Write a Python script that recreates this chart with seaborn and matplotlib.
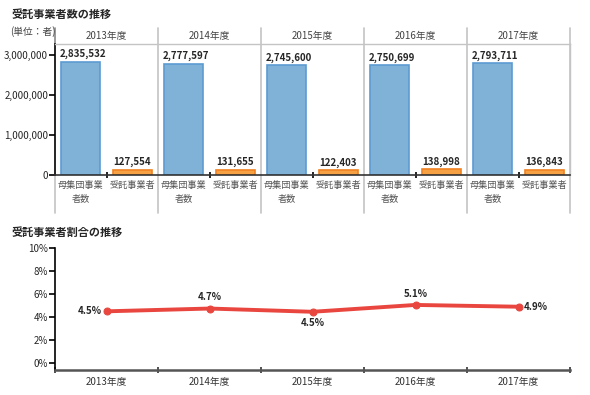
import matplotlib
matplotlib.use('Agg')
import matplotlib.pyplot as plt
import seaborn as sns
import pandas as pd
import numpy as np
from matplotlib.ticker import FuncFormatter

sns.set_style('white')
plt.rcParams['font.family'] = ['Noto Sans CJK JP', 'DejaVu Sans']

years = ['2013年度', '2014年度', '2015年度', '2016年度', '2017年度']
types = ['母集団事業\n者数', '受託事業者']
population = [2835532, 2777597, 2745600, 2750699, 2793711]
contracted = [127554, 131655, 122403, 138998, 136843]
ratio = [c / p * 100 for c, p in zip(contracted, population)]

blue = '#80b1d6'
blue_edge = '#5c9bd2'
orange = '#f7a145'
orange_edge = '#f08220'
red = '#e9463f'

df = pd.DataFrame({
    'year': years * 2,
    'type': [types[0]] * 5 + [types[1]] * 5,
    'value': population + contracted,
})

fig = plt.figure(figsize=(5.9, 3.95), dpi=100)

# --- top: counts
ax = fig.add_axes([55 / 590, 1 - 175 / 395, 515 / 590, 131 / 395])
sns.barplot(data=df, x='year', y='value', hue='type', hue_order=types,
            palette=[blue, orange], saturation=1, width=1.0, gap=0.25,
            dodge=True, linewidth=1.2, ax=ax, legend=False)
for p in ax.patches[:5]:
    p.set_edgecolor(blue_edge)
for p in ax.patches[5:10]:
    p.set_edgecolor(orange_edge)

ax.set_xlim(-0.5, 4.5)
ax.set_ylim(0, 3275000)
ax.set_yticks([0, 1000000, 2000000, 3000000])
ax.yaxis.set_major_formatter(FuncFormatter(lambda v, _: f'{int(v):,}'))
ax.set_xlabel('')
ax.set_ylabel('')
ax.tick_params(axis='y', labelsize=7, length=4, width=1.2, color='black',
               left=True, pad=1)
ax.set_xticks(range(5))
ax.set_xticklabels([])
ax.tick_params(axis='x', length=4, width=1.2, color='black', bottom=True,
               direction='inout')

for s in ['top', 'right']:
    ax.spines[s].set_color('#c4c4c4')
    ax.spines[s].set_linewidth(1)
ax.spines['left'].set_color('black')
ax.spines['left'].set_linewidth(1.2)
ax.spines['bottom'].set_color('#333333')
ax.spines['bottom'].set_linewidth(1.2)

xt = ax.get_xaxis_transform()
for i in range(5):
    ax.text(i - 0.455, population[i] + 60000, f'{population[i]:,}', ha='left',
            va='bottom', fontsize=7, fontweight='bold')
    ax.text(i + 0.25, contracted[i] + 60000, f'{contracted[i]:,}', ha='center',
            va='bottom', fontsize=7, fontweight='bold')
    ax.text(i, 1.063, years[i], ha='center', va='center', fontsize=7,
            color='#444444', transform=xt)
    ax.text(i - 0.25, -0.045, types[0], ha='center', va='top', fontsize=6.6,
            color='#555555', linespacing=1.75, transform=xt)
    ax.text(i + 0.25, -0.045, types[1], ha='center', va='top', fontsize=6.6,
            color='#555555', transform=xt)

for b in [0.5, 1.5, 2.5, 3.5, 4.5]:
    ax.axvline(b, ymin=-0.29, ymax=1.122, color='#c4c4c4', lw=1.2, clip_on=False)
ax.axvline(-0.5, ymin=1.0, ymax=1.122, color='#888888', lw=1.2, clip_on=False)
ax.axvline(-0.5, ymin=-0.29, ymax=0, color='#c4c4c4', lw=1.2, clip_on=False)

fig.text(12 / 590, 1 - 14 / 395, '受託事業者数の推移', fontsize=8,
         fontweight='bold', va='center')
fig.text(10 / 590, 1 - 32 / 395, '(単位：者)', fontsize=7, va='center',
         color='#444444')

# --- bottom: ratio
ax2 = fig.add_axes([55 / 590, 1 - 370 / 395, 515 / 590, 122 / 395])
xs = np.arange(5)
sns.lineplot(x=xs, y=ratio, color=red, lw=2.8, marker='o', markersize=5,
             markeredgecolor=red, ax=ax2)
ax2.set_xlim(-0.5, 4.5)
ax2.set_ylim(-0.6, 10)
ax2.set_yticks([0, 2, 4, 6, 8, 10])
ax2.set_yticklabels([f'{v}%' for v in [0, 2, 4, 6, 8, 10]])
ax2.set_xticks(xs)
ax2.set_xticklabels(years)
ax2.set_xticks([-0.5, 0.5, 1.5, 2.5, 3.5, 4.5], minor=True)
ax2.tick_params(axis='x', which='major', length=0, labelsize=7, pad=5,
                labelcolor='#333333')
ax2.tick_params(axis='x', which='minor', length=4, width=1.2, color='#333333',
                bottom=True, direction='inout')
ax2.tick_params(axis='y', labelsize=7, length=4, width=1.2, color='black',
                left=True, pad=1)
sns.despine(ax=ax2)
ax2.spines['left'].set_color('black')
ax2.spines['left'].set_linewidth(1.2)
ax2.spines['bottom'].set_color('#555555')
ax2.spines['bottom'].set_linewidth(1.8)

offsets = [(-0.05, 0, 'right', 'center'),
           (0, 0.55, 'center', 'bottom'),
           (0, -0.55, 'center', 'top'),
           (0, 0.55, 'center', 'bottom'),
           (0.05, 0, 'left', 'center')]
for i, (dx, dy, ha, va) in enumerate(offsets):
    ax2.text(i + dx, ratio[i] + dy, f'{ratio[i]:.1f}%', ha=ha, va=va,
             fontsize=7, fontweight='bold')

fig.text(12 / 590, 1 - 232 / 395, '受託事業者割合の推移', fontsize=8,
         fontweight='bold', va='center')

fig.savefig('out.png', dpi=100)
